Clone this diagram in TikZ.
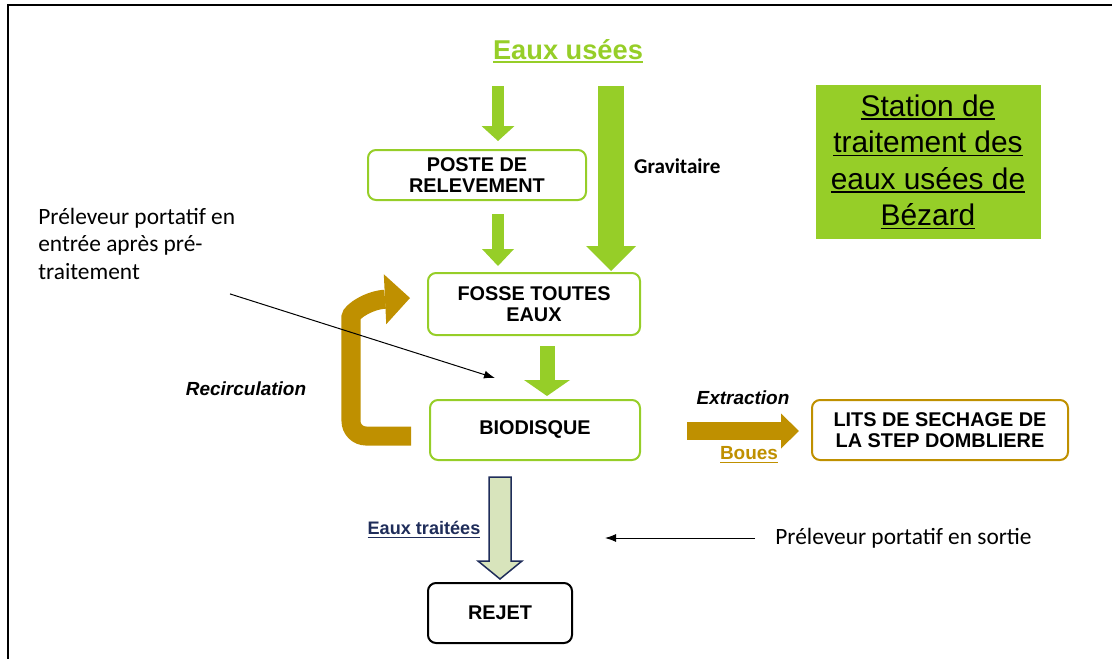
\documentclass[tikz,border=0pt]{standalone}
\usepackage{fontspec}
\setmainfont{Liberation Sans}
\newfontfamily\calibri{Carlito}
\usetikzlibrary{positioning,calc,arrows.meta}
\definecolor{vert}{RGB}{150,206,40}
\definecolor{ocre}{RGB}{191,144,0}
\definecolor{marine}{RGB}{31,45,90}
\definecolor{pale}{RGB}{216,228,188}
\newcommand{\souligne}[1]{\vtop{\hbox{#1}\kern1pt\hrule height 0.9pt}}

\begin{document}
\begin{tikzpicture}
    [
    x=0.2mm, y=-0.2mm,
    basic/.style={draw, rounded corners=1.6mm, line width=0.4mm, align=center,
        font=\bfseries\fontsize{11.3}{11.6}\selectfont},
    vbox/.style={basic, draw=vert},
    obox/.style={basic, draw=ocre},
    nbox/.style={basic, draw=black},
    lbl/.style={font=\bfseries\fontsize{10.8}{13}\selectfont},
    note/.style={font=\calibri\fontsize{13.3}{15.6}\selectfont, align=left, inner sep=0pt},
    fleche/.style={-{Latex[length=2.2mm,width=1.6mm]}, line width=0.2mm},
    varrow/.style n args={3}{draw=vert, line width=#1, -{Triangle[width=#2,length=#3,line width=0pt]}},
    oarrow/.style n args={3}{draw=ocre, line width=#1, -{Triangle[width=#2,length=#3,line width=0pt]}}
    ]

    \useasboundingbox (0,0) rectangle (1112,659);
    \draw [line width=0.5mm] (8,659) |- (1112,5);

    % Titres
    \node [font=\bfseries\fontsize{15.5}{17}\selectfont, text=vert] (eu) at (568,51) {\souligne{Eaux usées}};
    \node [fill=vert, minimum width=45mm, minimum height=30.6mm, align=center,
        font=\fontsize{17}{20.8}\selectfont] (station) at (928,162)
        {\souligne{Station de}\\\souligne{traitement des}\\\souligne{eaux usées de}\\\souligne{Bézard}};
    % Ouvrages
    \node [vbox, minimum width=43.6mm, minimum height=10mm] (poste) at (477,175) {POSTE DE\\RELEVEMENT};
    \node [vbox, minimum width=42.4mm, minimum height=12.4mm] (fosse) at (534,304) {FOSSE TOUTES\\EAUX};
    \node [vbox, minimum width=42mm, minimum height=12mm] (bio) at (535,430) {BIODISQUE};
    \node [obox, minimum width=51.2mm, minimum height=12mm] (lits) at (940,430) {LITS DE SECHAGE DE\\LA STEP DOMBLIERE};
    \node [nbox, minimum width=28.8mm, minimum height=12mm] (rejet) at (500,613) {REJET};
    % Flux d'eaux usees
    \draw [varrow={2.4mm}{6.6mm}{3mm}] ($(poste.north)+(21,-63)$) -- ($(poste.north)+(21,-8)$);
    \draw [varrow={2.4mm}{6.4mm}{3.4mm}] ($(poste.south)+(21,13)$) -- ($(fosse.north)+(-36,-6)$);
    \draw [varrow={3mm}{9.2mm}{3.2mm}] ($(fosse.south)+(13,10)$) -- ($(bio.north)+(12,-3)$);
    \draw [varrow={5.2mm}{10mm}{5mm}] ($(poste.north)+(134,-63)$) -- ($(fosse.north)+(77,-1)$);
    \node [lbl, font=\calibri\bfseries\fontsize{12}{14}\selectfont, anchor=west] (grav) at (628,166) {Gravitaire};
    % Recirculation et boues
    \draw [oarrow={3.8mm}{10mm}{5mm}, rounded corners=3mm] ($(bio.west)+(-18,6)$) -| ($(fosse.west)+(-76,28)$)
        .. controls ($(fosse.west)+(-76,8)$) and ($(fosse.west)+(-58,-4)$) .. ($(fosse.west)+(-17,-6)$);
    \node [lbl, font=\bfseries\itshape\fontsize{10.8}{13}\selectfont] (recirc) at (246,389) {Recirculation};
    \draw [oarrow={3.6mm}{7mm}{3.6mm}] ($(bio.east)+(46,1)$) -- ($(lits.west)+(-12,1)$);
    \node [lbl, font=\bfseries\itshape\fontsize{10.8}{13}\selectfont] (extr) at (743,398) {Extraction};
    \node [lbl, text=ocre] (boues) at (749,455) {\souligne{Boues}};
    % Sortie
    \draw [draw=marine, fill=pale, line width=0.3mm] ($(rejet.north)+(-11,-105)$) -- ++(22,0) -- ++(0,84)
        -- ++(11,0) -- ++(-22,18) -- ++(-22,-18) -- ++(11,0) -- cycle;
    \node [lbl, font=\bfseries\fontsize{10.3}{12}\selectfont, text=marine] (et) at (424,530) {\souligne{Eaux traitées}};
    % Preleveurs
    \node [note, anchor=north west] (pe) at (38,208) {Préleveur portatif en\\entrée après pré-\\traitement};
    \coordinate (pe-fin) at (495,378);
    \draw [fleche] ($(pe.south west)+(192,14)$) -- (pe-fin);
    \node [note, anchor=west] (ps) at (775,538) {Préleveur portatif en sortie};
    \coordinate (ps-fin) at (605,538);
    \draw [fleche] ($(ps.west)+(-20,0)$) -- (ps-fin);
\end{tikzpicture}
\end{document}
